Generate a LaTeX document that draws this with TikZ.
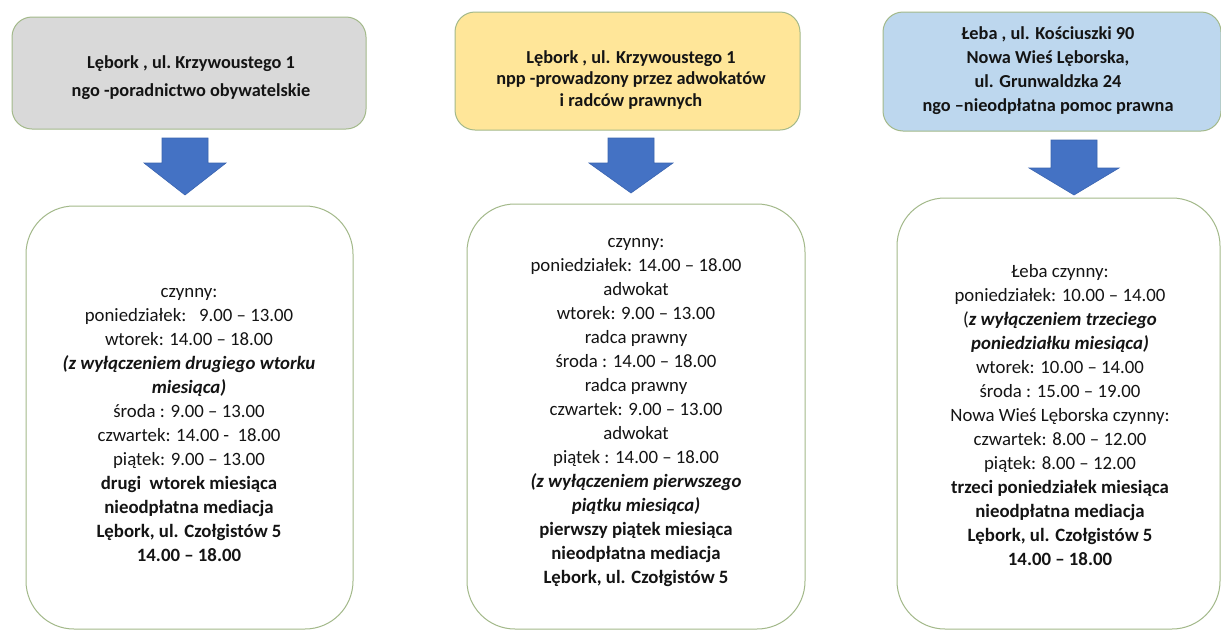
\documentclass[tikz,border=0pt]{standalone}
\usepackage{fontspec}
\setmainfont{Carlito}
\usetikzlibrary{calc}
\definecolor{hdrgray}{HTML}{D9D9D9}
\definecolor{hdryellow}{HTML}{FFE699}
\definecolor{hdrblue}{HTML}{BDD7EE}
\definecolor{boxline}{HTML}{A3B98A}
\definecolor{arrowblue}{HTML}{4472C4}
\definecolor{arrowedge}{HTML}{3A64B0}
\definecolor{txt}{HTML}{141414}
\tikzset{
  hdr/.style={draw=boxline, line width=1pt, rounded corners=20pt, inner sep=0pt},
  infobox/.style={draw=boxline, line width=1pt, fill=white, rounded corners=48pt, inner sep=0pt},
  hdrtext/.style={align=center, text=txt, font=\fontsize{18.3}{24.5}\selectfont\bfseries, inner sep=0pt},
  bodytext/.style={align=center, text=txt, font=\fontsize{18.8}{24}\selectfont, inner sep=0pt},
  blockarrow/.style={fill=arrowblue, draw=arrowedge, line width=0.6pt}
}
\newcommand{\bi}[1]{\textbf{\textit{#1}}}
\begin{document}
\begin{tikzpicture}[x=1pt,y=-1pt]
\useasboundingbox[fill=white] (0,0) rectangle (1221,630);

% headers
\node[hdr, fill=hdrgray, minimum width=354pt, minimum height=112pt] (h1) at (189,73) {};
\node[hdr, fill=hdryellow, minimum width=345pt, minimum height=118pt] (h2) at (627.5,71) {};
\node[hdr, fill=hdrblue, minimum width=338pt, minimum height=119pt] (h3) at (1052,71.5) {};

\node[hdrtext, font=\fontsize{18.3}{28}\selectfont\bfseries] (ht1) at (191,78) {Lębork ,\ ul.\ Krzywoustego 1\\ngo -poradnictwo obywatelskie};
\node[hdrtext, font=\fontsize{18.3}{21.5}\selectfont\bfseries] (ht2) at (631,80) {Lębork , ul. Krzywoustego 1\\npp -prowadzony przez adwokatów\\i radców prawnych};
\node[hdrtext, font=\fontsize{18.3}{24}\selectfont\bfseries] (ht3) at (1048,71) {Łeba , ul. Kościuszki 90\\Nowa Wieś Lęborska,\\ul. Grunwaldzka 24\\ngo –nieodpłatna pomoc prawna};

% lower boxes
\node[infobox, minimum width=327pt, minimum height=423pt] (b1) at (189.5,417.5) {};
\node[infobox, minimum width=338pt, minimum height=425pt] (b2) at (636,416.5) {};
\node[infobox, minimum width=323pt, minimum height=431pt] (b3) at (1058.5,413.5) {};

% block arrows
\newcommand{\barrow}[4]{%
  \fill[blockarrow] ($(#1)+(-23,0)$) -- ($(#1)+(23,0)$) -- ($(#1)+(23,#2)$) -- ($(#1)+(#4,#2)$)
    -- ($(#1)+(0,#3)$) -- ($(#1)+(-#4,#2)$) -- ($(#1)+(-23,#2)$) -- cycle;}
\coordinate (a1) at (185,138);
\coordinate (a2) at (631,138);
\coordinate (a3) at (1074,140);
\barrow{a1}{25}{57}{41}
\barrow{a2}{25}{55}{42}
\barrow{a3}{28}{55}{45}

% body texts
\node[bodytext] (bt1) at (189,425) {czynny:\\
poniedziałek:\ \ \ 9.00 – 13.00\\
wtorek: 14.00 – 18.00\\
\bi{(z wyłączeniem drugiego wtorku}\\
\bi{miesiąca)}\\
środa : 9.00 – 13.00\\
czwartek: 14.00 -\ \ 18.00\\
piątek: 9.00 – 13.00\\
\textbf{drugi\ \ wtorek miesiąca}\\
\textbf{nieodpłatna mediacja}\\
\textbf{Lębork, ul. Czołgistów 5}\\
\textbf{14.00 – 18.00}};

\node[bodytext] (bt2) at (636,413) {czynny:\\
poniedziałek: 14.00 – 18.00\\
adwokat\\
wtorek: 9.00 – 13.00\\
radca prawny\\
środa : 14.00 – 18.00\\
radca prawny\\
czwartek: 9.00 – 13.00\\
adwokat\\
piątek : 14.00 – 18.00\\
\bi{(z wyłączeniem pierwszego}\\
\bi{piątku miesiąca)}\\
\textbf{pierwszy piątek miesiąca}\\
\textbf{nieodpłatna mediacja}\\
\textbf{Lębork, ul. Czołgistów 5}};

\node[bodytext] (bt3) at (1060,415) {Łeba czynny:\\
poniedziałek: 10.00 – 14.00\\
(\bi{z wyłączeniem trzeciego}\\
\bi{poniedziałku miesiąca)}\\
wtorek: 10.00 – 14.00\\
środa : 15.00 – 19.00\\
Nowa Wieś Lęborska czynny:\\
czwartek: 8.00 – 12.00\\
piątek: 8.00 – 12.00\\
\textbf{trzeci poniedziałek miesiąca}\\
\textbf{nieodpłatna mediacja}\\
\textbf{Lębork, ul. Czołgistów 5}\\
\textbf{14.00 – 18.00}};
\end{tikzpicture}
\end{document}
